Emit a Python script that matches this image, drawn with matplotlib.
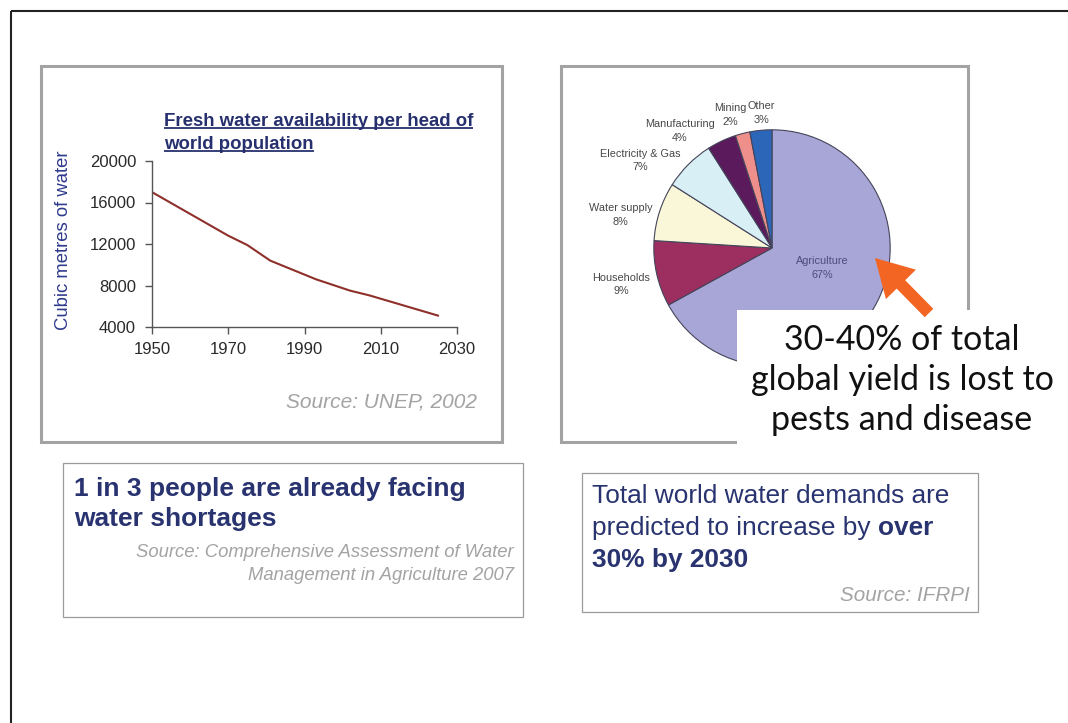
import matplotlib
matplotlib.use("Agg")
import numpy as np
import matplotlib.pyplot as plt
from matplotlib.patches import Rectangle, FancyArrow

plt.rcParams["font.family"] = ["Liberation Sans", "DejaVu Sans"]

# Fresh water availability per head of world population (cubic metres)
years = [1950, 1960, 1970, 1975, 1981, 1993, 2002, 2007, 2025]
water_per_head = [17000, 14900, 12800, 11900, 10400, 8600, 7500, 7050, 5100]
year_ticks = [1950, 1970, 1990, 2010, 2030]
volume_ticks = [4000, 8000, 12000, 16000, 20000]

# Water use by sector (%)
sectors = ["Agriculture", "Households", "Water supply", "Electricity & Gas",
           "Manufacturing", "Mining", "Other"]
sector_share = [67, 9, 8, 7, 4, 2, 3]
sector_colors = ["#a8a6d6", "#9c2f60", "#faf7d9", "#d8eff5",
                 "#5a1a5c", "#ef8f8c", "#2c66b8"]

NAVY = "#28336f"
GREY_TXT = "#a3a3a3"

W, H = 1068, 723
fig = plt.figure(figsize=(W / 100, H / 100), dpi=100)


def px_axes(x0, y0, x1, y1, **kw):
    return fig.add_axes([x0 / W, 1 - y1 / H, (x1 - x0) / W, (y1 - y0) / H], **kw)


# background layer in pixel coordinates
bg = px_axes(0, 0, W, H, zorder=0)
bg.set_xlim(0, W)
bg.set_ylim(H, 0)
bg.axis("off")

# slide frame
bg.plot([11, 11], [11, H + 5], color="#222222", lw=1.5, solid_capstyle="butt", clip_on=False)
bg.plot([11, W + 5], [11, 11], color="#222222", lw=1.5, solid_capstyle="butt", clip_on=False)

# picture frames
bg.add_patch(Rectangle((41, 66), 461, 376, fill=False, ec="#a3a3a3", lw=2.2))
bg.add_patch(Rectangle((561, 66), 407, 376, fill=False, ec="#a3a3a3", lw=2.2))

# ---- line chart ----
ax = px_axes(152, 161, 457, 327, zorder=1)
ax.patch.set_visible(False)
ax.plot(years, water_per_head, color="#8e2f2a", lw=1.5)
ax.set_xlim(year_ticks[0], year_ticks[-1])
ax.set_ylim(volume_ticks[0], volume_ticks[-1])
ax.set_xticks(year_ticks)
ax.set_yticks(volume_ticks)
ax.set_xticklabels([str(y) for y in year_ticks])
ax.set_yticklabels([str(v) for v in volume_ticks])
for s in ("top", "right"):
    ax.spines[s].set_visible(False)
for s in ("left", "bottom"):
    ax.spines[s].set_color("#555555")
    ax.spines[s].set_linewidth(1.0)
ax.tick_params(axis="both", direction="out", length=5, width=1.0, color="#555555",
               labelsize=12, labelcolor="#2a2a2a")
ax.tick_params(axis="y", pad=6.5)
ax.tick_params(axis="x", pad=5.5)
ax.set_ylabel("Cubic metres of water", fontsize=13.3, color="#2e3a8c", va="center")
ax.yaxis.set_label_coords((63 - 152) / 305, 0.52)

title_lines = []
for txt, base in (("Fresh water availability per head of", 126),
                  ("world population", 149)):
    title_lines.append(bg.text(164, base, txt, fontsize=13.4, fontweight="bold",
                               color="#27306e", ha="left", va="baseline"))

bg.text(477, 408, "Source: UNEP, 2002", fontsize=15, style="italic",
        color=GREY_TXT, ha="right", va="baseline")

# ---- pie chart ----
pr = 130
pax = px_axes(772 - pr, 248 - pr, 772 + pr, 248 + pr, zorder=1)
wedges, _ = pax.pie(sector_share, colors=sector_colors, startangle=90,
                    counterclock=False,
                    wedgeprops=dict(edgecolor="#44445a", linewidth=0.8))
pax.set_xlim(-1.1, 1.1)
pax.set_ylim(-1.1, 1.1)

# label placement: (radius, angle shift from wedge centre)
label_place = {
    "Agriculture": (0.46, 9),
    "Households": (1.31, 1),
    "Water supply": (1.31, 5.7),
    "Electricity & Gas": (1.34, 11.5),
    "Manufacturing": (1.26, 13),
    "Mining": (1.18, 2.8),
    "Other": (1.145, -0.9),
}
for w, name, share in zip(wedges, sectors, sector_share):
    mid = 0.5 * (w.theta1 + w.theta2)
    rad, shift = label_place[name]
    ang = np.deg2rad(mid + shift)
    col = "#4b4b7c" if name == "Agriculture" else "#474747"
    pax.text(rad * np.cos(ang), rad * np.sin(ang), f"{name}\n{share}%",
             ha="center", va="center", fontsize=7.8, color=col,
             linespacing=1.45)

# ---- text boxes ----
bg.add_patch(Rectangle((63, 463), 460, 154, fill=False, ec="#9b9b9b", lw=0.9))
bg.text(74, 496, "1 in 3 people are already facing", fontsize=19, fontweight="bold",
        color=NAVY, ha="left", va="baseline")
bg.text(74, 526, "water shortages", fontsize=19, fontweight="bold",
        color=NAVY, ha="left", va="baseline")
bg.text(514, 557, "Source: Comprehensive Assessment of Water", fontsize=13.3,
        style="italic", color=GREY_TXT, ha="right", va="baseline")
bg.text(514, 580, "Management in Agriculture 2007", fontsize=13.3,
        style="italic", color=GREY_TXT, ha="right", va="baseline")

bg.add_patch(Rectangle((582, 473), 396, 139, fill=False, ec="#9b9b9b", lw=0.9))
bg.text(592, 503, "Total world water demands are", fontsize=18.9,
        color=NAVY, ha="left", va="baseline")
t2 = bg.text(592, 535, "predicted to increase by ", fontsize=18.9,
             color=NAVY, ha="left", va="baseline")
bg.text(592, 567, "30% by 2030", fontsize=18.9, fontweight="bold",
        color=NAVY, ha="left", va="baseline")
bg.text(970, 601, "Source: IFRPI", fontsize=14.9, style="italic",
        color=GREY_TXT, ha="right", va="baseline")

# ---- callout overlay ----
top = px_axes(0, 0, W, H, zorder=5)
top.set_xlim(0, W)
top.set_ylim(H, 0)
top.axis("off")
top.add_patch(Rectangle((737, 310), 340, 150, fc="white", ec="none", clip_on=False))
top.add_patch(FancyArrow(929, 313, -54, -55, width=12, head_width=42, head_length=37,
                         length_includes_head=True, fc="#f26522", ec="none"))
for txt, base in (("30-40% of total", 350),
                  ("global yield is lost to", 390),
                  ("pests and disease", 430)):
    top.text(902, base, txt, fontsize=24.5, family=["Lato", "DejaVu Sans"],
             color="#111111", ha="center", va="baseline")

# underline the chart title and append the bold run after the regular one
fig.canvas.draw()
r = fig.canvas.get_renderer()
inv = bg.transData.inverted()
for t in title_lines:
    bb = t.get_window_extent(r)
    (xa, _), (xb, _) = inv.transform([(bb.x0, bb.y0), (bb.x1, bb.y0)])
    y = t.get_position()[1] + 2.2
    bg.plot([xa, xb], [y, y], color="#27306e", lw=1.3, solid_capstyle="butt")

bb = t2.get_window_extent(r)
(xr, _), = inv.transform([(bb.x1, bb.y0)])
bg.text(xr, 535, "over", fontsize=18.9, fontweight="bold",
        color=NAVY, ha="left", va="baseline")

fig.savefig("out.png", dpi=100)
